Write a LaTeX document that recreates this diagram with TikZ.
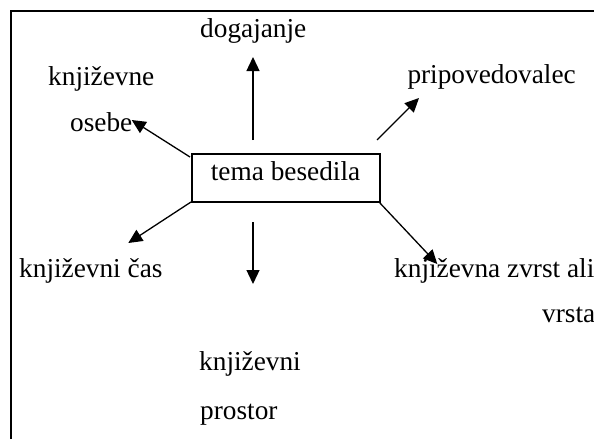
\documentclass[tikz,border=0pt]{standalone}
\usepackage{fontspec}
\setmainfont{Liberation Serif}
\usetikzlibrary{arrows.meta}
\begin{document}
\begin{tikzpicture}[x=1pt,y=-1pt,
  lbl/.style={inner sep=0pt,anchor=base west,font=\fontsize{27.3}{33}\selectfont},
  arr/.style={line width=1.3pt,-{Triangle[length=14pt,width=13pt]}},
  frame/.style={line width=2.2pt}]
\useasboundingbox (0,0) rectangle (594,439);
\draw[frame] (10.7,439) -- (10.7,10.7) -- (594,10.7);
\node[draw,line width=1.8pt,minimum width=188pt,minimum height=48pt,inner sep=0pt] (box) at (286,178) {};
\node[lbl] (tema) at (210.7,180) {tema besedila};
\node[lbl] (dog) at (200,37) {dogajanje};
\node[lbl] (knj1) at (48,85) {književne};
\node[lbl] (ose) at (70,131.7) {osebe};
\node[lbl] (prip) at (407.3,83) {pripovedovalec};
\node[lbl] (cas) at (19,277) {književni čas};
\node[lbl] (zvr) at (394,277) {književna zvrst ali};
\node[lbl] (vrs) at (542,322) {vrsta};
\node[lbl] (knj2) at (199,370.7) {književni};
\node[lbl] (pro) at (200,419) {prostor};
\coordinate (s1) at (253,140); \coordinate (e1) at (253,57);
\coordinate (s2) at (190,157); \coordinate (e2) at (131.7,120);
\coordinate (s3) at (377,140); \coordinate (e3) at (419,98);
\coordinate (s4) at (191,202); \coordinate (e4) at (128.3,243);
\coordinate (s5) at (253,222); \coordinate (e5) at (253,284);
\coordinate (s6) at (379,202); \coordinate (e6) at (437.3,264);
\draw[arr] (s1) -- (e1);
\draw[arr] (s2) -- (e2);
\draw[arr] (s3) -- (e3);
\draw[arr] (s4) -- (e4);
\draw[arr] (s5) -- (e5);
\draw[arr] (s6) -- (e6);
\end{tikzpicture}
\end{document}
